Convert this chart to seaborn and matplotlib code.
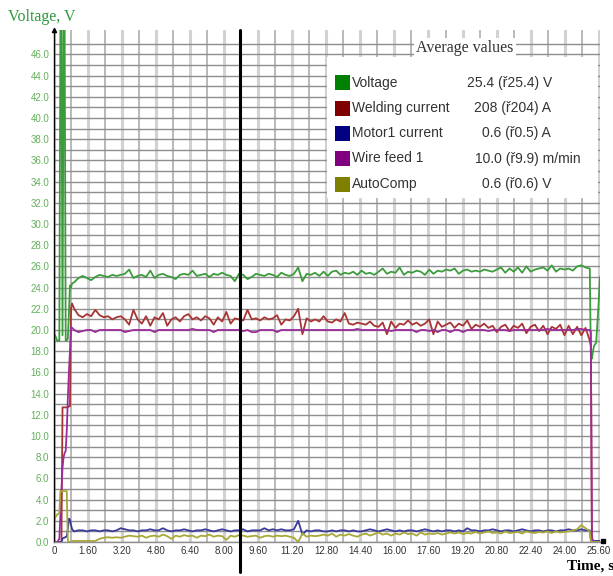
import numpy as np
import pandas as pd
import matplotlib
matplotlib.use("Agg")
import matplotlib.pyplot as plt
import seaborn as sns
from matplotlib.patches import Rectangle

# ---------------------------------------------------------------- data
# sample clock, seconds: arc start, steady welding, arc stop
t_start = [0.0, 0.05, 0.15, 0.25, 0.30, 0.35, 0.40, 0.45, 0.50, 0.55,
           0.60, 0.65, 0.70, 0.75, 0.80, 0.85]
t_run = np.linspace(0.95, 25.18, 123)
t_stop = [25.23, 25.28, 25.33, 25.38, 25.48, 25.58, 25.66]

# Voltage, V
voltage_start = [19.6, 19.5, 19.0, 19.0, 48.5, 48.5, 19.5, 48.5, 48.5, 19.0,
                 19.0, 19.2, 21.5, 24.2, 24.0, 24.4]
voltage_run = [24.5, 24.9, 25.1, 24.9, 24.7, 25.0, 25.2, 25.1, 25.0, 25.2,
               25.1, 25.2, 25.3, 25.7, 24.9, 25.1, 25.2, 25.0, 25.6, 24.9,
               25.2, 25.3, 25.1, 25.0, 24.8, 25.2, 25.3, 25.2, 25.6, 25.1,
               25.2, 25.3, 25.0, 25.3, 25.2, 25.4, 25.2, 25.1, 24.6, 25.3,
               25.2, 24.8, 25.0, 25.3, 25.2, 25.1, 25.3, 25.2, 25.0, 25.4,
               25.2, 25.1, 25.3, 25.9, 24.6, 25.3, 25.2, 25.4, 25.1, 25.5,
               25.1, 25.5, 25.6, 25.2, 25.4, 25.3, 25.5, 25.2, 25.6, 25.3,
               25.4, 25.2, 25.5, 25.8, 25.3, 25.5, 25.4, 25.9, 25.2, 25.5,
               25.4, 25.6, 25.5, 25.2, 25.7, 25.3, 25.6, 25.5, 25.7, 25.6,
               25.8, 25.3, 25.6, 25.7, 25.5, 25.6, 25.5, 25.7, 25.6, 25.5,
               25.7, 25.9, 25.4, 25.8, 25.5, 25.9, 25.4, 26.0, 25.5, 25.7,
               25.8, 25.9, 25.6, 26.1, 25.5, 25.8, 25.7, 25.8, 25.6, 26.0,
               26.1, 25.9, 25.8]
voltage_stop = [17.5, 17.3, 18.0, 18.5, 18.8, 22.0, 25.0]

# Welding current, A / 10
current_start = [0.0, 0.0, 0.0, 0.0, 0.0, 0.0, 12.7, 12.7, 12.7, 12.7,
                 12.7, 12.7, 12.8, 12.8, 22.0, 22.5]
current_run = [22.0, 21.4, 21.2, 21.5, 21.3, 21.9, 21.4, 21.2, 21.3, 21.0,
               21.2, 21.3, 21.0, 20.5, 21.9, 21.0, 20.6, 21.3, 20.4, 21.2,
               21.0, 21.6, 20.4, 21.0, 21.2, 20.8, 21.3, 21.5, 21.0, 21.2,
               20.9, 21.3, 21.1, 20.5, 21.2, 20.8, 21.7, 20.6, 21.1, 21.0,
               20.9, 21.9, 21.0, 21.1, 20.9, 21.2, 21.0, 21.1, 21.4, 20.5,
               21.0, 20.9, 21.3, 22.0, 19.6, 21.1, 20.8, 21.0, 20.8, 21.3,
               20.8, 20.7, 21.0, 20.8, 21.6, 20.6, 20.5, 20.7, 20.6, 20.5,
               20.8, 20.4, 20.3, 20.7, 19.6, 20.8, 20.2, 20.6, 20.5, 20.9,
               20.5, 20.7, 20.4, 20.6, 21.0, 19.6, 20.8, 20.3, 20.5, 20.7,
               20.2, 20.6, 20.4, 20.9, 20.1, 20.5, 20.3, 20.6, 20.2, 20.4,
               19.8, 20.3, 20.5, 19.9, 20.4, 20.2, 20.6, 19.7, 20.3, 20.5,
               19.9, 20.4, 19.6, 20.3, 20.1, 20.5, 19.5, 20.4, 19.6, 20.3,
               19.5, 20.2, 19.0]
current_stop = [18.5, 0.3, 0.1, 0.0, 0.0, 0.0, 0.0]

# Motor1 current, A
motor_start = [0.0, 0.0, 0.0, 0.0, 0.0, 0.0, 0.3, 0.4, 0.4, 0.5,
               0.5, 1.2, 2.2, 2.1, 1.6, 1.2]
motor_run = [1.0, 1.1, 1.1, 1.0, 1.1, 1.1, 1.0, 1.1, 1.1, 1.0,
             1.1, 1.3, 1.2, 1.1, 1.1, 1.0, 1.1, 1.1, 1.2, 1.1,
             1.1, 1.3, 1.1, 1.0, 1.1, 1.1, 1.2, 1.1, 1.0, 1.1,
             1.1, 1.2, 1.1, 1.0, 1.1, 1.2, 1.1, 1.0, 1.1, 1.1,
             1.2, 1.0, 1.1, 1.1, 1.1, 1.3, 1.1, 1.2, 1.1, 1.2,
             1.1, 1.1, 1.2, 2.0, 0.7, 1.1, 1.0, 1.1, 1.1, 1.0,
             1.0, 1.1, 1.0, 1.1, 1.1, 1.0, 1.1, 1.0, 1.0, 1.1,
             1.2, 1.1, 1.0, 1.1, 1.2, 1.1, 1.0, 1.1, 1.0, 1.1,
             1.1, 1.0, 1.1, 1.2, 1.1, 1.0, 1.1, 1.0, 1.1, 1.1,
             1.0, 1.1, 1.0, 1.3, 1.1, 1.1, 1.0, 1.1, 1.1, 1.2,
             1.1, 1.0, 1.1, 1.1, 1.0, 1.1, 1.2, 1.1, 1.0, 1.1,
             1.1, 1.0, 1.1, 1.1, 1.0, 1.1, 1.1, 1.2, 1.1, 1.1,
             1.2, 1.1, 1.1]
motor_stop = [0.2, 0.1, 0.1, 0.1, 0.1, 0.1, 0.1]

# Wire feed 1, m/min x 2
wire_start = [0.0, 0.0, 0.0, 0.3, 2.5, 5.0, 7.0, 8.0, 8.4, 8.6,
              10.5, 13.5, 16.0, 18.0, 20.3, 20.2]
wire_run = [20.0, 19.8, 19.9, 20.0, 20.0, 19.8, 20.0, 20.0, 20.0, 20.0,
            20.0, 20.0, 19.8, 19.9, 20.0, 20.0, 20.0, 20.0, 20.0, 19.8,
            20.0, 20.0, 20.0, 20.0, 20.0, 20.0, 20.0, 20.0, 20.1, 20.0,
            20.0, 20.0, 20.0, 19.8, 20.0, 20.0, 20.0, 20.0, 20.0, 20.0,
            19.9, 20.0, 19.8, 19.8, 20.0, 20.0, 20.0, 20.0, 19.8, 20.0,
            20.0, 20.0, 20.0, 20.0, 20.0, 20.0, 20.0, 20.0, 20.0, 20.0,
            20.0, 20.0, 20.0, 20.0, 20.0, 20.0, 20.0, 20.1, 20.0, 20.0,
            20.0, 20.0, 20.0, 20.0, 20.0, 19.9, 20.0, 20.0, 20.0, 20.0,
            20.0, 19.8, 20.0, 20.0, 19.9, 20.0, 19.8, 20.0, 20.0, 19.8,
            20.0, 20.0, 19.8, 20.0, 20.0, 20.0, 20.0, 20.0, 19.9, 20.0,
            20.0, 20.0, 20.0, 19.9, 20.0, 20.0, 20.0, 20.0, 20.0, 20.0,
            20.0, 20.0, 20.1, 20.0, 20.0, 20.0, 20.0, 20.0, 20.0, 20.1,
            20.1, 20.0, 20.0]
wire_stop = [19.8, 0.5, 0.1, 0.0, 0.0, 0.0, 0.0]

# AutoComp, V
autocomp_start = [2.0, 2.3, 2.6, 2.7, 4.8, 4.8, 4.8, 4.8, 4.8, 4.8,
                  4.8, 0.1, 0.0, 0.0, 0.0, 0.1]
autocomp_run = [0.1, 0.1, 0.1, 0.1, 0.1, 0.1, 0.3, 0.4, 0.45, 0.4,
                0.45, 0.4, 0.5, 0.6, 0.55, 0.5, 0.6, 0.4, 0.55, 0.6,
                0.5, 0.7, 0.55, 0.3, 0.6, 0.5, 0.65, 0.55, 0.6, 0.4,
                0.6, 0.55, 0.7, 0.5, 0.6, 0.55, 0.2, 0.6, 0.5, 0.65,
                0.6, 0.5, 0.55, 0.6, 0.4, 0.55, 0.6, 0.5, 0.6, 0.55,
                0.6, 0.5, 0.4, 0.0, 0.8, 0.5, 0.6, 0.55, 0.6, 0.7,
                0.6, 0.8, 0.5, 0.7, 0.6, 0.75, 0.6, 0.5, 0.7, 0.8,
                0.6, 0.75, 0.9, 0.7, 0.8, 0.6, 0.8, 0.7, 0.9, 0.75,
                0.8, 0.6, 0.9, 0.7, 0.8, 0.75, 0.85, 0.7, 0.8, 0.9,
                0.8, 0.9, 0.75, 0.85, 0.8, 0.95, 0.8, 0.9, 1.0, 0.85,
                0.9, 0.8, 1.0, 0.85, 0.9, 0.95, 0.8, 1.0, 0.9, 0.85,
                0.95, 0.9, 1.0, 0.85, 1.0, 0.9, 0.95, 1.0, 1.1, 1.2,
                1.6, 1.3, 1.0]
autocomp_stop = [0.1, 0.0, 0.0, 0.0, 0.0, 0.0, 0.0]

series_names = ["Voltage", "Welding current", "Motor1 current", "Wire feed 1", "AutoComp"]
average_texts = ["25.4 (ř25.4) V", "208 (ř204) A", "0.6 (ř0.5) A",
                 "10.0 (ř9.9) m/min", "0.6 (ř0.6) V"]
x_tick_values = [0, 1.6, 3.2, 4.8, 6.4, 8.0, 9.6, 11.2, 12.8, 14.4,
                 16.0, 17.6, 19.2, 20.8, 22.4, 24.0, 25.6]
x_tick_labels = ["0", "1.60", "3.20", "4.80", "6.40", "8.00", "9.60", "11.20",
                 "12.80", "14.40", "16.00", "17.60", "19.20", "20.80", "22.40",
                 "24.00", "25.60"]
cursor_time = 8.745

# ---------------------------------------------------------------- style
line_colors = ["#3c9c3c", "#a83434", "#3a3a9c", "#9c2c9c", "#a8a838"]
swatch_colors = ["#008000", "#800000", "#000080", "#800080", "#808000"]

sns.set_style("white")
plt.rcParams["font.family"] = ["Liberation Sans", "DejaVu Sans"]

W, H = 613, 576
fig = plt.figure(figsize=(W / 100, H / 100), dpi=100)
fig.patch.set_facecolor("white")
ax = fig.add_axes([54 / W, 34 / H, (600 - 54) / W, 512 / H])

time = np.concatenate([t_start, t_run, t_stop])
frames = []
for name, start, run, stop in zip(
        series_names,
        [voltage_start, current_start, motor_start, wire_start, autocomp_start],
        [voltage_run, current_run, motor_run, wire_run, autocomp_run],
        [voltage_stop, current_stop, motor_stop, wire_stop, autocomp_stop]):
    vals = np.concatenate([start, run, stop])
    frames.append(pd.DataFrame({"time": time, "value": vals, "series": name}))
df = pd.concat(frames, ignore_index=True)

sns.lineplot(data=df, x="time", y="value", hue="series", hue_order=series_names,
             palette=line_colors, estimator=None, sort=False, legend=False,
             linewidth=1.3, ax=ax)

ax.set_xlim(0, 25.66)
ax.set_ylim(0, 48.3)
ax.set_xlabel("")
ax.set_ylabel("")

# grid: horizontal every 1.0, vertical every 0.8 s
ax.set_yticks(np.arange(0, 47, 2))
ax.set_yticklabels([f"{v:.1f}" for v in np.arange(0, 47, 2)])
ax.set_yticks(np.arange(1, 49, 2), minor=True)
ax.set_xticks(x_tick_values)
ax.set_xticklabels(x_tick_labels)
ax.set_xticks(np.arange(0.8, 25.7, 1.6), minor=True)
ax.set_axisbelow(True)
ax.grid(True, axis="y", which="both", color="#8e8e8e", linewidth=1.0)
ax.grid(True, axis="x", which="major", color="#d2d2d2", linewidth=2.2)
ax.grid(True, axis="x", which="minor", color="#a6a6a6", linewidth=1.1)

ax.tick_params(axis="y", which="both", direction="out", length=2.3, width=0.8,
               color="black", pad=1.0, labelsize=7, labelcolor="#62b05a")
ax.tick_params(axis="x", which="both", length=0, pad=3, labelsize=7,
               labelcolor="#333333")

for side in ("top", "right"):
    ax.spines[side].set_visible(False)
ax.spines["left"].set_color("black")
ax.spines["left"].set_linewidth(1.0)
ax.spines["bottom"].set_color("#8e8e8e")
ax.spines["bottom"].set_linewidth(1.0)

# axis end markers
ax.plot([0], [48.3], marker="^", ms=3, color="black", clip_on=False, zorder=5)
ax.plot([25.81], [0.1], marker="s", ms=2.5, color="black", clip_on=False, zorder=5)

# time cursor
ax.axvline(cursor_time, ymin=-0.058, ymax=1.0, color="black", linewidth=2.2,
           clip_on=False, zorder=4)

# axis titles
fig.text(8 / W, 1 - 17 / H, "Voltage, V", ha="left", va="center",
         family="Liberation Serif", fontsize=11.5, color="#2f9a3f")
fig.text(567 / W, 1 - 566 / H, "Time, s", ha="left", va="center",
         family="Liberation Serif", fontsize=11, fontweight="bold", color="black")

# average values panel
fig.add_artist(Rectangle((327 / W, 1 - 198 / H), (598 - 327) / W, (198 - 57) / H,
                         transform=fig.transFigure, facecolor="white",
                         edgecolor="none", zorder=2))
fig.text(465 / W, 1 - 48 / H, "Average values", ha="center", va="center",
         family="Liberation Serif", fontsize=11.5, color="#333333", zorder=3,
         bbox=dict(facecolor="white", edgecolor="none", pad=1.5))
row_y = [82.5, 108, 133, 158.5, 184]
value_x = [467, 474, 482, 475, 482]
for name, txt, col, yc, vx in zip(series_names, average_texts, swatch_colors,
                                  row_y, value_x):
    fig.add_artist(Rectangle((335 / W, 1 - (yc + 7.5) / H), 15 / W, 15 / H,
                             transform=fig.transFigure, facecolor=col,
                             edgecolor="none", zorder=3))
    fig.text(352 / W, 1 - yc / H, name, ha="left", va="center", fontsize=10,
             color="#333333", zorder=3)
    fig.text(vx / W, 1 - yc / H, txt, ha="left", va="center", fontsize=10,
             color="#333333", zorder=3)

fig.savefig("out.png", dpi=100, facecolor="white")
